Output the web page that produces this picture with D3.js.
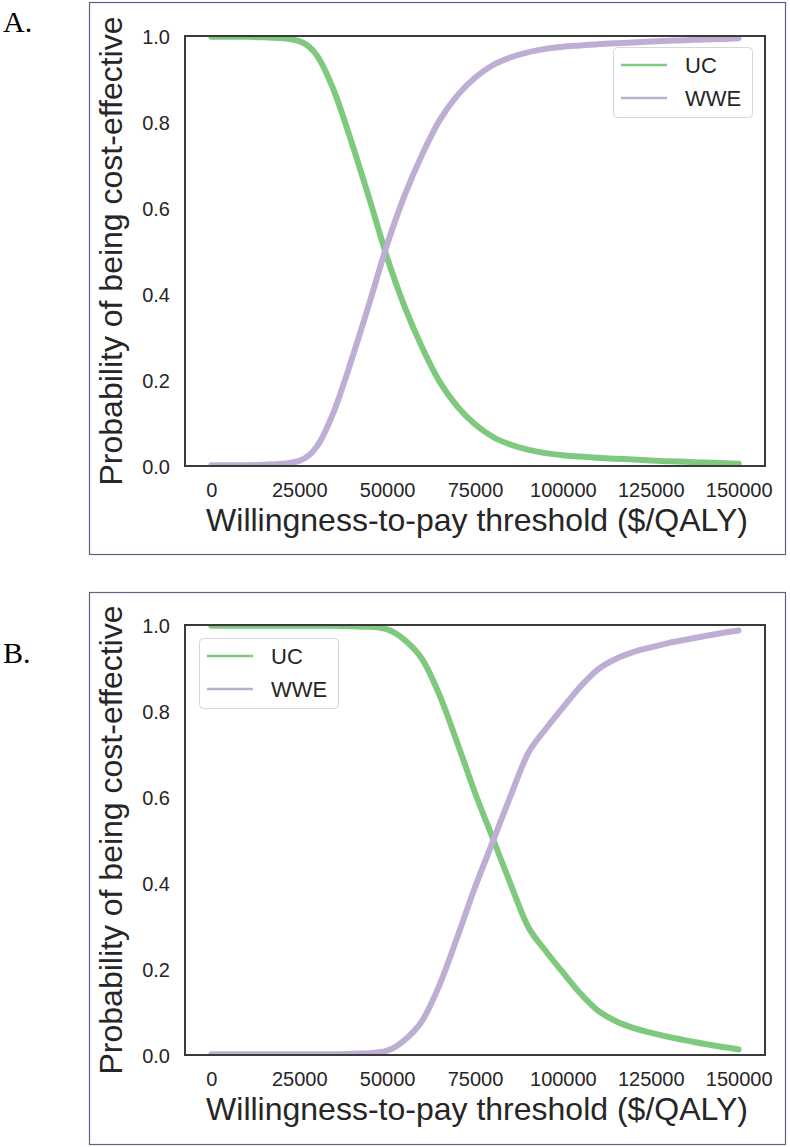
<!DOCTYPE html>
<html>
<head>
<meta charset="utf-8">
<script src="https://cdn.jsdelivr.net/npm/d3@7"></script>
<style>
  html, body { margin: 0; padding: 0; background: #ffffff; }
  svg { display: block; }
  text { font-family: "Liberation Sans", Arial, sans-serif; fill: #262626; }
</style>
</head>
<body>
<div id="chart"></div>
<script>
// ---------- DATA ----------
const thresholds = [0, 5000, 10000, 15000, 20000, 25000, 30000, 35000, 40000, 45000,
  50000, 55000, 60000, 65000, 70000, 75000, 80000, 85000, 90000, 95000,
  100000, 105000, 110000, 115000, 120000, 125000, 130000, 135000, 140000, 145000, 150000];

// Panel A
const ucA = [0.998, 0.998, 0.998, 0.997, 0.995, 0.988, 0.955, 0.87, 0.75, 0.62,
  0.485, 0.37, 0.275, 0.195, 0.138, 0.097, 0.068, 0.050, 0.038, 0.030,
  0.025, 0.022, 0.019, 0.017, 0.015, 0.013, 0.011, 0.010, 0.008, 0.007, 0.005];
const wweA = [0.002, 0.002, 0.002, 0.003, 0.005, 0.012, 0.045, 0.13, 0.25, 0.38,
  0.515, 0.63, 0.725, 0.805, 0.862, 0.903, 0.932, 0.950, 0.962, 0.970,
  0.975, 0.978, 0.981, 0.983, 0.985, 0.987, 0.989, 0.990, 0.992, 0.993, 0.995];

// Panel B
const ucB = [0.998, 0.998, 0.998, 0.998, 0.998, 0.998, 0.998, 0.998, 0.997, 0.996,
  0.99, 0.965, 0.92, 0.835, 0.725, 0.61, 0.505, 0.40, 0.30, 0.243,
  0.192, 0.143, 0.103, 0.079, 0.063, 0.052, 0.042, 0.034, 0.026, 0.019, 0.013];
const wweB = [0.002, 0.002, 0.002, 0.002, 0.002, 0.002, 0.002, 0.002, 0.003, 0.004,
  0.01, 0.035, 0.08, 0.165, 0.275, 0.39, 0.495, 0.60, 0.70, 0.757,
  0.808, 0.857, 0.897, 0.921, 0.937, 0.948, 0.958, 0.966, 0.974, 0.981, 0.987];

const seriesNames = ["UC", "WWE"];
const seriesColors = ["#7fc97f", "#beaed4"];
const xTicks = [0, 25000, 50000, 75000, 100000, 125000, 150000];
const yTicks = [0.0, 0.2, 0.4, 0.6, 0.8, 1.0];
const panelLabels = ["A.", "B."];
const xLabel = "Willingness-to-pay threshold ($/QALY)";
const yLabel = "Probability of being cost-effective";

// ---------- LAYOUT ----------
const W = 790, H = 1147;
const panels = [
  { label: panelLabels[0], series: [ucA, wweA], frameTop: 2, frameBottom: 554, axTop: 36, axBottom: 466, legend: "right", labelY: 32 },
  { label: panelLabels[1], series: [ucB, wweB], frameTop: 592, frameBottom: 1144, axTop: 625, axBottom: 1055, legend: "left", labelY: 663 }
];
const axLeft = 185, axRight = 765;
const frameLeft = 89.5, frameRight = 785.5;

const svg = d3.select("#chart").append("svg")
  .attr("width", W).attr("height", H)
  .attr("viewBox", `0 0 ${W} ${H}`);
svg.append("rect").attr("width", W).attr("height", H).attr("fill", "#fff");

const x = d3.scaleLinear().domain([-7500, 157500]).range([axLeft, axRight]);

panels.forEach((p, pi) => {
  const g = svg.append("g");
  // outer frame
  g.append("rect")
    .attr("x", frameLeft).attr("y", p.frameTop + 0.5)
    .attr("width", frameRight - frameLeft).attr("height", p.frameBottom - p.frameTop)
    .attr("fill", "none").attr("stroke", "#56647f").attr("stroke-width", 1.2);

  // panel letter
  g.append("text")
    .attr("x", 3).attr("y", p.labelY)
    .style("font-family", "'Liberation Serif', 'Times New Roman', serif")
    .style("font-size", "30px").style("fill", "#000")
    .text(p.label);

  const y = d3.scaleLinear().domain([0, 1]).range([p.axBottom, p.axTop]);

  // clip
  const clipId = "clip" + pi;
  svg.append("defs").append("clipPath").attr("id", clipId)
    .append("rect").attr("x", axLeft).attr("y", p.axTop)
    .attr("width", axRight - axLeft).attr("height", p.axBottom - p.axTop);

  const line = d3.line()
    .x((d, i) => x(thresholds[i]))
    .y(d => y(d))
    .curve(d3.curveMonotoneX);

  const lg = g.append("g").attr("clip-path", `url(#${clipId})`);
  p.series.forEach((s, si) => {
    lg.append("path")
      .datum(s)
      .attr("d", line)
      .attr("fill", "none")
      .attr("stroke", seriesColors[si])
      .attr("stroke-width", 6)
      .attr("stroke-linecap", "round")
      .attr("stroke-linejoin", "round");
  });

  // axes box (spines)
  g.append("rect")
    .attr("x", axLeft).attr("y", p.axTop)
    .attr("width", axRight - axLeft).attr("height", p.axBottom - p.axTop)
    .attr("fill", "none").attr("stroke", "#3a3a3a").attr("stroke-width", 2);

  // x axis ticks (no tick marks)
  const xAxis = d3.axisBottom(x).tickValues(xTicks).tickSize(0).tickPadding(0)
    .tickFormat(d3.format("d"));
  const xg = g.append("g").attr("transform", `translate(0,${p.axBottom})`).call(xAxis);
  xg.select(".domain").remove();
  xg.selectAll("text")
    .attr("y", 31).attr("dy", null)
    .style("font-size", "20px").style("fill", "#262626")
    .style("font-family", "'Liberation Sans', Arial, sans-serif");

  // y axis
  const yAxis = d3.axisLeft(y).tickValues(yTicks).tickSize(0).tickPadding(0)
    .tickFormat(d3.format(".1f"));
  const yg = g.append("g").attr("transform", `translate(${axLeft},0)`).call(yAxis);
  yg.select(".domain").remove();
  yg.selectAll("text")
    .attr("x", -15).attr("dy", "0.35em")
    .style("font-size", "20px").style("fill", "#262626")
    .style("font-family", "'Liberation Sans', Arial, sans-serif");

  // axis labels
  g.append("text")
    .attr("x", (axLeft + axRight) / 2 + 2).attr("y", p.axBottom + 65)
    .attr("text-anchor", "middle")
    .style("font-size", "32px")
    .text(xLabel);
  g.append("text")
    .attr("transform", `translate(122,${(p.axTop + p.axBottom) / 2}) rotate(-90)`)
    .attr("text-anchor", "middle")
    .style("font-size", "32px")
    .text(yLabel);

  // legend
  const legX = p.legend === "right" ? 613 : 199;
  const legY = p.legend === "right" ? p.axTop + 11 : p.axTop + 13;
  const leg = g.append("g").attr("transform", `translate(${legX},${legY})`);
  leg.append("rect")
    .attr("x", 0.5).attr("y", 0.5).attr("width", 139).attr("height", 70)
    .attr("rx", 4).attr("ry", 4)
    .attr("fill", "#fff").attr("fill-opacity", 0.85)
    .attr("stroke", "#d6d6d6").attr("stroke-width", 1);
  seriesNames.forEach((name, si) => {
    const ly = 18 + si * 33;
    leg.append("line")
      .attr("x1", 8).attr("x2", 54).attr("y1", ly).attr("y2", ly)
      .attr("stroke", seriesColors[si]).attr("stroke-width", 2.5);
    leg.append("text")
      .attr("x", 72).attr("y", ly).attr("dy", "0.36em")
      .style("font-size", "22px")
      .text(name);
  });
});
</script>
</body>
</html>
